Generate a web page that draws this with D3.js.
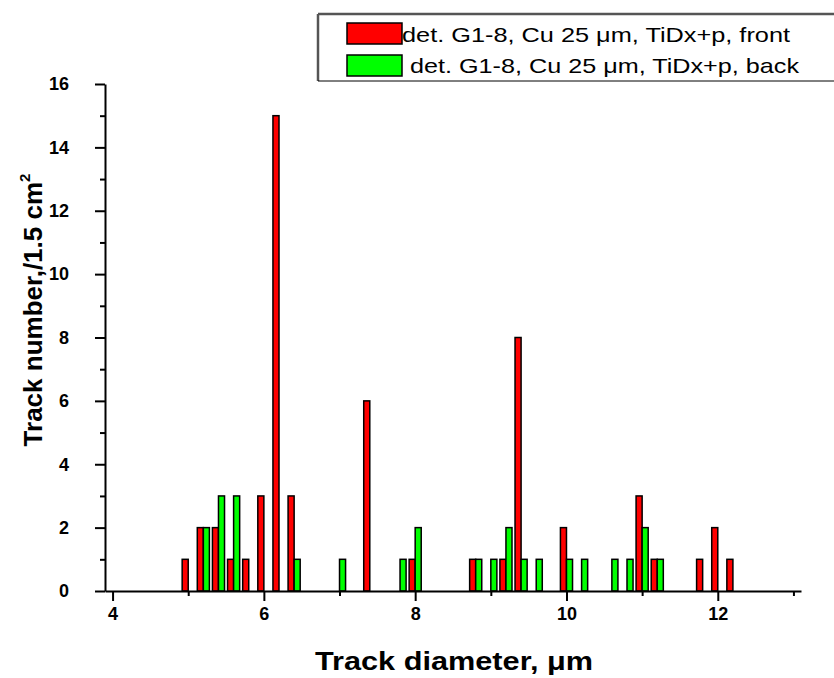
<!DOCTYPE html>
<html>
<head>
<meta charset="utf-8">
<script src="https://cdn.jsdelivr.net/npm/d3@7"></script>
<style>
body { margin: 0; background: #fff; }
text { font-family: "Liberation Sans", Arial, sans-serif; }
</style>
</head>
<body>
<div id="chart"></div>
<script>
// bin centres (um) and counts
const frontBins = [5.0, 5.2, 5.4, 5.6, 5.8, 6.0, 6.2, 6.4, 7.4, 8.0, 8.8, 9.2, 9.4, 10.0, 11.0, 11.2, 11.8, 12.0, 12.2];
const frontCounts = [1, 2, 2, 1, 1, 3, 15, 3, 6, 1, 1, 1, 8, 2, 3, 1, 1, 2, 1];
const backBins = [5.2, 5.4, 5.6, 6.4, 7.0, 7.8, 8.0, 8.8, 9.0, 9.2, 9.4, 9.6, 10.0, 10.2, 10.6, 10.8, 11.0, 11.2];
const backCounts = [2, 3, 3, 1, 1, 1, 2, 1, 1, 2, 1, 1, 1, 1, 1, 1, 2, 1];
const xTicks = [4, 6, 8, 10, 12];
const xMinorTicks = [5, 7, 9, 11, 13];
const yTicks = [0, 2, 4, 6, 8, 10, 12, 14, 16];
const yMinorTicks = [1, 3, 5, 7, 9, 11, 13, 15];
const seriesNames = ["det. G1-8, Cu 25 \u03bcm, TiDx+p, front", "det. G1-8, Cu 25 \u03bcm, TiDx+p, back"];

const width = 834;
const height = 678;
const barW = 0.08;

const x = d3.scaleLinear().domain([3.9, 13.1]).range([105, 801]);
const y = d3.scaleLinear().domain([0, 16]).range([591, 84]);

const svg = d3.select("#chart").append("svg")
    .attr("width", width)
    .attr("height", height);

const front = frontBins.map((b, i) => ({ bin: b, n: frontCounts[i] }));
const back = backBins.map((b, i) => ({ bin: b, n: backCounts[i] }));

// red bars sit just left of the bin centre, green just right
svg.append("g").selectAll("rect")
    .data(front)
    .enter()
    .append("rect")
    .attr("x", d => x(d.bin - barW))
    .attr("y", d => y(d.n))
    .attr("width", d => x(d.bin) - x(d.bin - barW))
    .attr("height", d => y(0) - y(d.n))
    .attr("fill", "#ff0000")
    .attr("stroke", "#000")
    .attr("stroke-width", 1.5);

svg.append("g").selectAll("rect")
    .data(back)
    .enter()
    .append("rect")
    .attr("x", d => x(d.bin))
    .attr("y", d => y(d.n))
    .attr("width", d => x(d.bin + barW) - x(d.bin))
    .attr("height", d => y(0) - y(d.n))
    .attr("fill", "#00ff00")
    .attr("stroke", "#000")
    .attr("stroke-width", 1.5);

// axes
svg.append("g")
    .attr("transform", `translate(${x.range()[0]},0)`)
    .call(d3.axisLeft(y).tickValues(yTicks).tickSize(10).tickSizeOuter(0).tickPadding(26));
svg.append("g")
    .attr("transform", `translate(${x.range()[0]},0)`)
    .call(d3.axisLeft(y).tickValues(yMinorTicks).tickSize(5).tickFormat(""))
    .select(".domain").remove();

svg.append("g")
    .attr("transform", `translate(0,${y(0)})`)
    .call(d3.axisBottom(x).tickValues(xTicks).tickSize(10).tickSizeOuter(0).tickPadding(6));
svg.append("g")
    .attr("transform", `translate(0,${y(0)})`)
    .call(d3.axisBottom(x).tickValues(xMinorTicks).tickSize(5).tickFormat(""))
    .select(".domain").remove();

svg.selectAll(".domain, .tick line")
    .attr("stroke", "#000")
    .attr("stroke-width", 2);
svg.selectAll(".tick text")
    .attr("fill", "#000")
    .attr("font-family", "'Liberation Sans', Arial, sans-serif")
    .attr("font-size", 18)
    .attr("font-weight", "bold");

// axis titles
svg.append("text")
    .attr("x", 315)
    .attr("y", 670)
    .attr("textLength", 278)
    .attr("lengthAdjust", "spacingAndGlyphs")
    .style("font-size", "26px")
    .style("font-weight", "bold")
    .text("Track diameter, \u03bcm");

const yTitle = svg.append("text")
    .attr("transform", "translate(42,310) rotate(-90)")
    .attr("text-anchor", "middle")
    .style("font-size", "26px")
    .style("font-weight", "bold");
yTitle.append("tspan").text("Track number,/1.5 cm");
yTitle.append("tspan").attr("dy", -12).style("font-size", "15px").text("2");

// legend
const legend = svg.append("g");
legend.append("line").attr("x1", 318).attr("x2", 834).attr("y1", 14).attr("y2", 14)
    .attr("stroke", "#555").attr("stroke-width", 2.5);
legend.append("line").attr("x1", 318).attr("x2", 318).attr("y1", 14).attr("y2", 81)
    .attr("stroke", "#555").attr("stroke-width", 2.5);
legend.append("line").attr("x1", 318).attr("x2", 834).attr("y1", 81).attr("y2", 81)
    .attr("stroke", "#000").attr("stroke-width", 1);

const legendItems = [
    { fill: "#ff0000", label: seriesNames[0], top: 23, base: 42, tx: 402, len: 388 },
    { fill: "#00ff00", label: seriesNames[1], top: 55, base: 73, tx: 410, len: 389 }
];
legendItems.forEach(d => {
    legend.append("rect")
        .attr("x", 347).attr("y", d.top)
        .attr("width", 55).attr("height", 21)
        .attr("fill", d.fill)
        .attr("stroke", "#000")
        .attr("stroke-width", 1.5);
    legend.append("text")
        .attr("x", d.tx).attr("y", d.base)
        .attr("textLength", d.len)
        .attr("lengthAdjust", "spacingAndGlyphs")
        .style("font-size", "21px")
        .text(d.label);
});
</script>
</body>
</html>
